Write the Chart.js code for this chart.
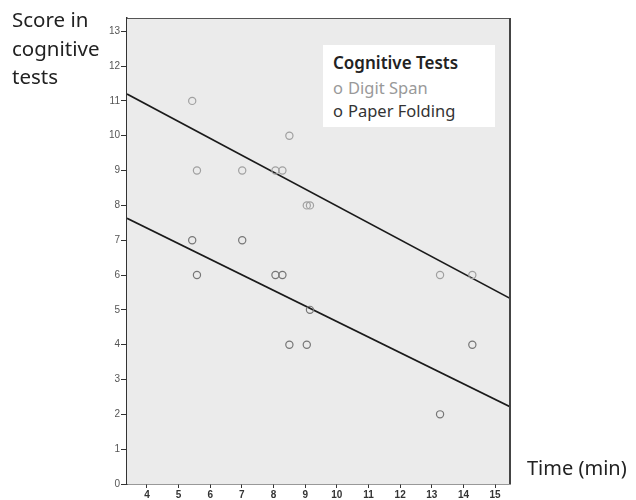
<!DOCTYPE html>
<html>
<head>
<meta charset="utf-8">
<script src="https://cdn.jsdelivr.net/npm/chart.js@4"></script>
<style>
  body { margin: 0; background: #fff; }
  #wrap { position: relative; width: 636px; height: 500px; }
  #yTitle { position: absolute; left: 12px; top: 5px; font: 20.5px "Noto Sans", sans-serif; line-height: 28.5px; color: #222; }
  #xTitle { position: absolute; left: 527px; top: 454px; font: 20px "Noto Sans", sans-serif; color: #222; }
  #legend { position: absolute; left: 323px; top: 45px; width: 172px; height: 82px; background: #fff; font-family: "Noto Sans", sans-serif; }
  #legend .t { position: absolute; left: 10px; top: 6px; font-size: 17px; font-weight: 600; color: #222; }
  #legend .i { position: absolute; left: 10px; font-size: 16.5px; white-space: nowrap; }
  #legend .i b { font-weight: normal; margin-right: 5px; }
</style>
</head>
<body>
<div id="wrap">
  <canvas id="c" width="636" height="500"></canvas>
  <div id="yTitle">Score in<br>cognitive<br>tests</div>
  <div id="xTitle">Time (min)</div>
  <div id="legend">
    <div class="t">Cognitive Tests</div>
    <div class="i" style="top:31px;color:#999"><b>o</b>Digit Span</div>
    <div class="i" style="top:54px;color:#333"><b>o</b>Paper Folding</div>
  </div>
</div>
<script>
// time per subject (same for both tests)
const timeX = [5.43, 5.58, 7.01, 8.06, 8.28, 8.5, 9.05, 9.15, 13.26, 14.28];
const digitSpan = [11, 9, 9, 9, 9, 10, 8, 8, 6, 6];
const paperFolding = [7, 6, 7, 6, 6, 4, 4, 5, 2, 4];
// fit lines at the plot edges
const fitX = [3.37, 15.47];
const fitDigit = [11.2, 5.33];
const fitFold = [7.63, 2.22];
const xTicks = [4, 5, 6, 7, 8, 9, 10, 11, 12, 13, 14, 15];
const yTicks = [0, 1, 2, 3, 4, 5, 6, 7, 8, 9, 10, 11, 12, 13];

const pts = (xs, ys) => xs.map((x, i) => ({ x: x, y: ys[i] }));

const frame = {
  id: 'frame',
  beforeDatasetsDraw(chart) {
    const a = chart.chartArea, ctx = chart.ctx;
    ctx.save();
    ctx.fillStyle = '#ebebeb';
    ctx.fillRect(a.left, a.top, a.right - a.left, a.bottom - a.top);
    ctx.restore();
  },
  afterDraw(chart) {
    const a = chart.chartArea, ctx = chart.ctx;
    ctx.save();
    ctx.strokeStyle = '#555';
    ctx.lineWidth = 1;
    ctx.beginPath();
    ctx.moveTo(a.left, a.top + 0.5);
    ctx.lineTo(a.right, a.top + 0.5);
    ctx.stroke();
    ctx.strokeStyle = '#444';
    ctx.lineWidth = 2;
    ctx.beginPath();
    ctx.moveTo(a.right, a.top);
    ctx.lineTo(a.right, a.bottom);
    ctx.stroke();
    ctx.restore();
  }
};

new Chart(document.getElementById('c'), {
  type: 'scatter',
  data: {
    datasets: [
      { label: 'Digit Span', data: pts(timeX, digitSpan), pointStyle: 'circle', pointRadius: 3.6, borderWidth: 1.2, borderColor: '#a0a0a0', backgroundColor: 'rgba(0,0,0,0)' },
      { label: 'Paper Folding', data: pts(timeX, paperFolding), pointStyle: 'circle', pointRadius: 3.6, borderWidth: 1.2, borderColor: '#767676', backgroundColor: 'rgba(0,0,0,0)' },
      { type: 'line', label: 'fit1', data: pts(fitX, fitDigit), borderColor: '#1a1a1a', borderWidth: 1.7, pointRadius: 0, fill: false },
      { type: 'line', label: 'fit2', data: pts(fitX, fitFold), borderColor: '#1a1a1a', borderWidth: 1.7, pointRadius: 0, fill: false }
    ]
  },
  options: {
    responsive: false,
    animation: false,
    layout: { padding: { left: 87, right: 126, top: 18, bottom: 0 } },
    plugins: { legend: { display: false }, tooltip: { enabled: false } },
    scales: {
      x: {
        type: 'linear', min: 3.37, max: 15.47,
        afterBuildTicks: s => { s.ticks = xTicks.map(v => ({ value: v })); },
        afterFit: s => { s.height = 16; },
        grid: { drawOnChartArea: false, drawTicks: true, tickLength: 4, color: '#333' },
        border: { display: true, color: '#333', width: 1.5 },
        ticks: { padding: 1, color: '#333', font: { family: 'Liberation Sans', size: 10, weight: 'bold' }, maxRotation: 0 }
      },
      y: {
        type: 'linear', min: 0, max: 13.38,
        afterBuildTicks: s => { s.ticks = yTicks.map(v => ({ value: v })); },
        afterFit: s => { s.width = 40; },
        grid: { drawOnChartArea: false, drawTicks: true, tickLength: 6, color: '#333' },
        border: { display: true, color: '#333', width: 1.5 },
        ticks: { padding: 1, color: '#555', font: { family: 'Liberation Sans', size: 10 } }
      }
    }
  },
  plugins: [frame]
});
</script>
</body>
</html>
